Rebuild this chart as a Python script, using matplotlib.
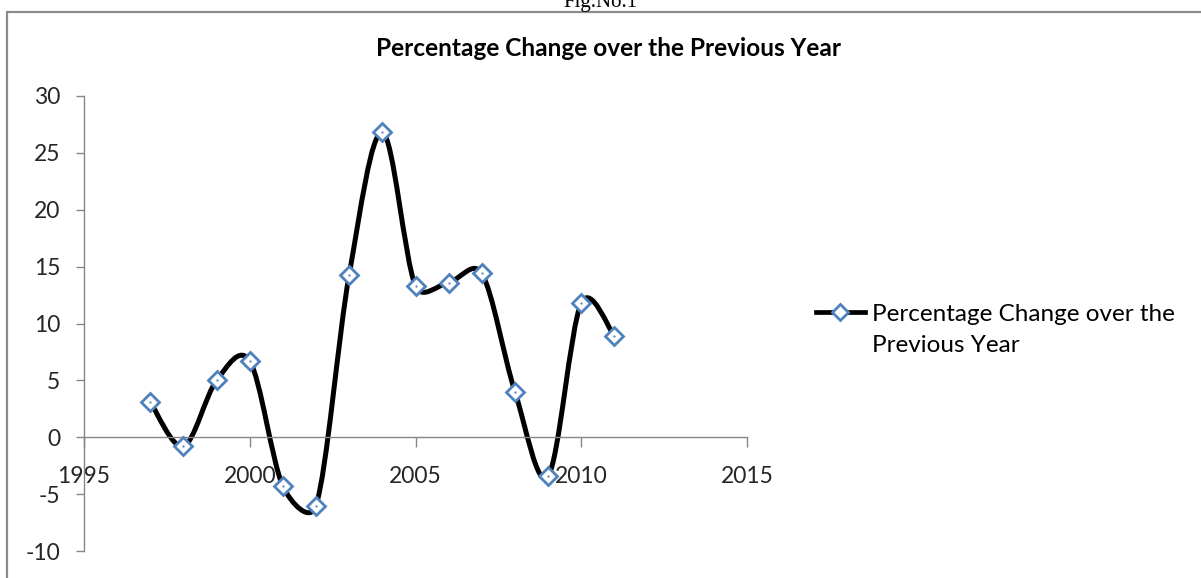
import numpy as np
import matplotlib.pyplot as plt
from matplotlib.path import Path
from matplotlib.patches import PathPatch, Rectangle
from matplotlib.lines import Line2D

# Data
years   = [1997, 1998, 1999, 2000, 2001, 2002, 2003, 2004, 2005, 2006, 2007, 2008, 2009, 2010, 2011]
changes = [3.1, -0.8, 5.0, 6.7, -4.3, -6.0, 14.3, 26.8, 13.3, 13.6, 14.4, 4.0, -3.4, 11.8, 8.9]

title      = "Percentage Change over the Previous Year"
series_lbl = ["Percentage Change over the", "Previous Year"]   # legend label, wrapped as in source
x_ticks    = [1995, 2000, 2005, 2010, 2015]
y_ticks    = [-10, -5, 0, 5, 10, 15, 20, 25, 30]

plt.rcParams["font.family"] = ["Lato", "DejaVu Sans"]
plt.rcParams["axes.unicode_minus"] = False

W, H = 1201, 578
fig = plt.figure(figsize=(W / 100, H / 100), dpi=100)

# outer chart frame (cropped at right / bottom like the source)
fig.patches.append(Rectangle((7 / W, -0.2), 1.2, (H - 12) / H + 0.2, transform=fig.transFigure,
                             fill=False, edgecolor="#8c8c8c", linewidth=1.6))
fig.text(600 / W, 1 - 7 / H, "Fig.No.1", ha="center", va="baseline",
         fontsize=15, family="Liberation Serif")
fig.text(609 / W, 1 - 48 / H, title, ha="center", va="center",
         fontsize=17.6, fontweight="bold")

ax = fig.add_axes([84 / W, 27 / H, (747 - 84) / W, (551 - 96) / H])
ax.set_xlim(1995, 2015)
ax.set_ylim(-10, 30)

# Excel-style smoothed line: cubic Bezier, tension 1/6, arms limited to half the segment
pts = ax.transData.transform(np.column_stack([years, changes]))
n = len(pts)
seg = np.hypot(*np.diff(pts, axis=0).T)
verts = [pts[0]]
codes = [Path.MOVETO]
for i in range(n - 1):
    p0 = pts[max(i - 1, 0)]
    p1 = pts[i]
    p2 = pts[i + 1]
    p3 = pts[min(i + 2, n - 1)]
    a1 = (p2 - p0) / 6
    a2 = (p3 - p1) / 6
    lim = seg[i] / 2
    for a in (a1, a2):
        l = np.hypot(*a)
        if l > lim:
            a *= lim / l
    verts += [p1 + a1, p2 - a2, p2]
    codes += [Path.CURVE4] * 3
verts = ax.transData.inverted().transform(np.array(verts))
ax.add_patch(PathPatch(Path(verts, codes), facecolor="none", edgecolor="black",
                       linewidth=3.6, capstyle="round", zorder=2))

ax.plot(years, changes, linestyle="none", marker="D", markersize=9.5,
        markerfacecolor="white", markeredgecolor="#4f81bd", markeredgewidth=2.0, zorder=3)
ax.plot(years, changes, linestyle="none", marker=".", markersize=1.2,
        color="#4f81bd", zorder=4)

for s in ["top", "right"]:
    ax.spines[s].set_visible(False)
ax.spines["bottom"].set_position(("data", 0))
for s in ["left", "bottom"]:
    ax.spines[s].set_color("#868686")
    ax.spines[s].set_linewidth(1.0)

ax.set_xticks(x_ticks)
ax.set_yticks(y_ticks)
ax.tick_params(axis="both", colors="#868686", labelcolor="#262626", labelsize=16.5, width=1.0)
ax.tick_params(axis="y", length=6, pad=11)
ax.tick_params(axis="x", length=7, pad=14)

# legend: handle sits on the first line, second line wraps underneath
handle = Line2D([0], [0], color="black", linewidth=3.4, marker="D", markersize=8.5,
                markerfacecolor="white", markeredgecolor="#4f81bd", markeredgewidth=2.0)
leg = fig.legend([handle], [series_lbl[0]], loc="center left", bbox_to_anchor=(816 / W, 1 - 314 / H),
                 frameon=False, fontsize=17.5, handlelength=2.0, handletextpad=0.3,
                 borderaxespad=0, borderpad=0)
fig.canvas.draw()
tx = leg.get_texts()[0].get_window_extent().x0
fig.text(tx / W, 1 - 345 / H, series_lbl[1], ha="left", va="center", fontsize=17.5)

fig.savefig("out.png", dpi=100)
